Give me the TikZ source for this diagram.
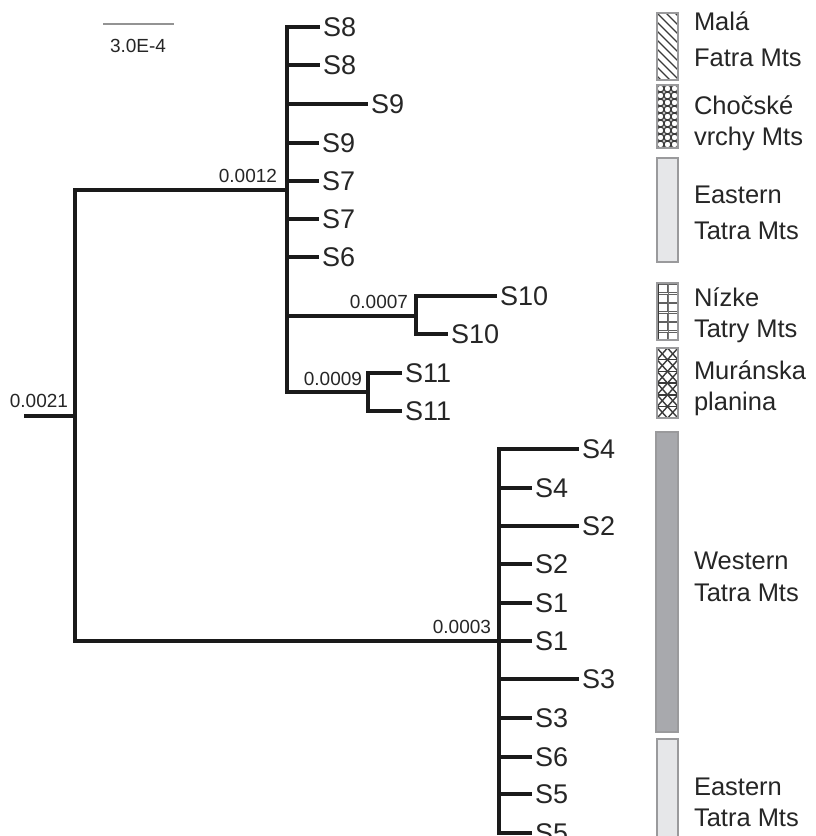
\documentclass[tikz,border=0pt]{standalone}
\usepackage{fontspec}
\setmainfont{Liberation Sans}
\definecolor{ln}{HTML}{1A1A1A}
\definecolor{txt}{HTML}{262626}
\definecolor{boxedge}{HTML}{9A9A9C}
\definecolor{lightfill}{HTML}{E6E7E9}
\definecolor{darkfill}{HTML}{A8A9AD}
\definecolor{pat}{HTML}{3A3A3A}
\newcommand{\leaffont}{\fontsize{27}{32}\selectfont}
\newcommand{\legfont}{\fontsize{25.5}{30}\selectfont}
\newcommand{\numfont}{\fontsize{19}{22}\selectfont}
\tikzset{
  br/.style={line width=3.3pt, draw=ln, line cap=rect, line join=miter},
  leaf/.style={anchor=west, inner sep=0pt, outer sep=0pt, font=\leaffont, text=txt,
    text height=19.3pt, text depth=0pt, xshift=5pt},
  blab/.style={anchor=south east, inner sep=0pt, outer sep=0pt, font=\numfont, text=txt},
  leg/.style={anchor=west, inner sep=0pt, outer sep=0pt, font=\legfont, text=txt,
    text height=18.3pt, text depth=0pt},
  legbox/.style={draw=boxedge, line width=1.2pt},
  patline/.style={draw=pat, line width=1.4pt}
}
\begin{document}
\begin{tikzpicture}[x=1pt,y=-1pt]
\useasboundingbox (0,0) rectangle (815,836);
\fill[white] (0,0) rectangle (815,836);

% ---------- scale bar ----------
\coordinate (sb1) at (103,24);
\coordinate (sb2) at (174,24);
\draw[draw=gray!85, line width=1.8pt] (sb1) -- (sb2);
\node[font=\numfont, text=txt, inner sep=0pt] (sbl) at (138,46) {3.0E-4};

% ---------- tree coordinates ----------
\coordinate (R0) at (26,416);
\coordinate (Rmid) at (75,416);
\coordinate (Rtop) at (75,190);
\coordinate (Rbot) at (75,641);
\coordinate (A) at (287,190);
\coordinate (B) at (499,641);
\coordinate (C10) at (416,316);
\coordinate (C11) at (368,392);

% top clade leaf ends
\coordinate (e1) at (318,27);
\coordinate (e2) at (318,65);
\coordinate (e3) at (366,104);
\coordinate (e4) at (317,143);
\coordinate (e5) at (317,181);
\coordinate (e6) at (317,219);
\coordinate (e7) at (317,257);
\coordinate (e8) at (495,296);
\coordinate (e9) at (446,334);
\coordinate (e10) at (400,373);
\coordinate (e11) at (400,411);

% bottom clade leaf ends
\coordinate (f1) at (577,449);
\coordinate (f2) at (530,488);
\coordinate (f3) at (577,526);
\coordinate (f4) at (530,564);
\coordinate (f5) at (530,603);
\coordinate (f6) at (530,641);
\coordinate (f7) at (577,679);
\coordinate (f8) at (530,718);
\coordinate (f9) at (530,757);
\coordinate (f10) at (530,794);
\coordinate (f11) at (530,833);

% ---------- branches ----------
\draw[br] (R0) -- (Rmid);
\draw[br] (A) -- (Rtop) -- (Rbot) -- (B);
% top clade
\draw[br] (e1) -- (e1 -| A) -- (C11 -| A) -- (C11);
\foreach \e in {e2,e3,e4,e5,e6,e7} \draw[br] (\e -| A) -- (\e);
\draw[br] (C10 -| A) -- (C10);
\draw[br] (e8) -- (e8 -| C10) -- (e9 -| C10) -- (e9);
\draw[br] (e10) -- (e10 -| C11) -- (e11 -| C11) -- (e11);
% bottom clade
\draw[br] (f1) -- (f1 -| B) -- (f11 -| B) -- (f11);
\foreach \f in {f2,f3,f4,f5,f6,f7,f8,f9,f10} \draw[br] (\f -| B) -- (\f);

% ---------- leaf labels ----------
\node[leaf] (n1) at (e1) {S8};
\node[leaf] (n2) at (e2) {S8};
\node[leaf] (n3) at (e3) {S9};
\node[leaf] (n4) at (e4) {S9};
\node[leaf] (n5) at (e5) {S7};
\node[leaf] (n6) at (e6) {S7};
\node[leaf] (n7) at (e7) {S6};
\node[leaf] (n8) at (e8) {S10};
\node[leaf] (n9) at (e9) {S10};
\node[leaf] (n10) at (e10) {S11};
\node[leaf] (n11) at (e11) {S11};

\node[leaf] (m1) at (f1) {S4};
\node[leaf] (m2) at (f2) {S4};
\node[leaf] (m3) at (f3) {S2};
\node[leaf] (m4) at (f4) {S2};
\node[leaf] (m5) at (f5) {S1};
\node[leaf] (m6) at (f6) {S1};
\node[leaf] (m7) at (f7) {S3};
\node[leaf] (m8) at (f8) {S3};
\node[leaf] (m9) at (f9) {S6};
\node[leaf] (m10) at (f10) {S5};
\node[leaf] (m11) at (f11) {S5};

% ---------- branch support labels ----------
\node[blab] (b1) at (68,408) {0.0021};
\node[blab] (b2) at (277,183) {0.0012};
\node[blab] (b3) at (408,309) {0.0007};
\node[blab] (b4) at (362,386) {0.0009};
\node[blab] (b5) at (491,634) {0.0003};

% ---------- legend boxes ----------
% Mala Fatra: diagonal hatching
\begin{scope}
  \clip (657,13) rectangle (678,80);
  \foreach \k in {-27,-18,...,80} \draw[patline] (657,{13+\k}) -- (678,{13+\k+21});
\end{scope}
\draw[legbox] (657,13) rectangle (678,80);
% Chocske vrchy: circles
\begin{scope}
  \clip (657,85) rectangle (678,148);
  \foreach \r in {0,...,8} \foreach \c in {0,1,2}
    \draw[draw=pat, line width=1.2pt] ({660.5+7*\c},{88.5+7*\r}) circle[radius=3.5pt];
\end{scope}
\draw[legbox] (657,85) rectangle (678,148);
% Eastern Tatra (upper)
\draw[legbox, fill=lightfill] (657,158) rectangle (678,262);
% Nizke Tatry: small squares
\begin{scope}
  \clip (657,283) rectangle (678,340);
  \foreach \r in {0,...,5} \foreach \c in {0,1}
    \draw[draw=pat!80, line width=1pt] ({658.5+10*\c},{284.5+9.5*\r}) rectangle ++(8.5,8);
  \draw[draw=pat, line width=1.3pt] (658.5,283) -- (658.5,340);
  \draw[draw=pat!70, line width=1pt] (668,283) -- (668,340);
\end{scope}
\draw[legbox] (657,283) rectangle (678,340);
% Muranska planina: triangles
\begin{scope}
  \clip (657,348) rectangle (678,418);
  \foreach \r in {0,...,5} {
    \draw[patline] (657,{348+11.7*\r}) -- (678,{348+11.7*\r});
    \foreach \c in {0,1} {
      \draw[patline] ({657+10.5*\c},{348+11.7*\r}) -- ({667.5+10.5*\c},{359.7+11.7*\r});
      \draw[patline] ({667.5+10.5*\c},{348+11.7*\r}) -- ({657+10.5*\c},{359.7+11.7*\r});
    }
  }
\end{scope}
\draw[legbox] (657,348) rectangle (678,418);
% Western Tatra
\draw[legbox, fill=darkfill] (656,432) rectangle (678,732);
% Eastern Tatra (lower)
\draw[legbox, fill=lightfill] (657,739) rectangle (678,850);

% ---------- legend texts ----------
\node[leg] (g1) at (694,21) {Malá};
\node[leg] (g2) at (694,57) {Fatra Mts};
\node[leg] (g3) at (694,105) {Chočské};
\node[leg] (g4) at (694,136) {vrchy Mts};
\node[leg] (g5) at (694,194) {Eastern};
\node[leg] (g6) at (694,230) {Tatra Mts};
\node[leg] (g7) at (694,297) {Nízke};
\node[leg] (g8) at (694,328) {Tatry Mts};
\node[leg] (g9) at (694,370) {Muránska};
\node[leg] (g10) at (694,401) {planina};
\node[leg] (g11) at (694,560) {Western};
\node[leg] (g12) at (694,592) {Tatra Mts};
\node[leg] (g13) at (694,786) {Eastern};
\node[leg] (g14) at (694,817) {Tatra Mts};
\end{tikzpicture}
\end{document}
